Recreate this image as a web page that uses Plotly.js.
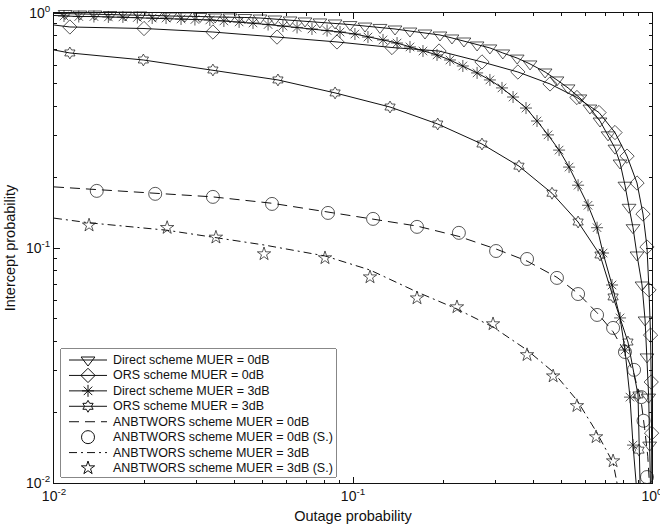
<!DOCTYPE html>
<html>
<head>
<meta charset="utf-8">
<script src="https://cdn.plot.ly/plotly-3.0.1.min.js"></script>
<style>
html, body { margin: 0; padding: 0; background: #fff; }
#chart { width: 660px; height: 529px; }
</style>
</head>
<body>
<div id="chart"></div>
<script>
// ---------------- data ----------------
// Direct scheme MUER = 0dB (first/last entries are where the curve meets the axes)
const direct0X = [0.01, 0.0109, 0.0122, 0.0137, 0.0154, 0.0173, 0.0194, 0.0218, 0.0244, 0.0274, 0.0308, 0.0346, 0.0388, 0.0435, 0.0489, 0.0548, 0.0616, 0.0691, 0.0775, 0.0871, 0.0977, 0.1097, 0.1231, 0.1382, 0.1551, 0.1741, 0.1954, 0.2143, 0.235, 0.260, 0.287, 0.317, 0.354, 0.391, 0.439, 0.481, 0.524, 0.574, 0.620, 0.670, 0.713, 0.752, 0.782, 0.812, 0.838, 0.864, 0.891, 0.926, 0.948, 0.962, 0.975, 0.982, 0.988];
const direct0Y = [0.996, 0.995, 0.990, 0.990, 0.985, 0.981, 0.981, 0.976, 0.971, 0.971, 0.966, 0.962, 0.962, 0.957, 0.952, 0.943, 0.934, 0.925, 0.916, 0.907, 0.893, 0.880, 0.868, 0.855, 0.838, 0.822, 0.806, 0.783, 0.760, 0.731, 0.710, 0.676, 0.643, 0.607, 0.561, 0.519, 0.480, 0.435, 0.394, 0.347, 0.303, 0.266, 0.230, 0.185, 0.149, 0.122, 0.0934, 0.0696, 0.0494, 0.0344, 0.0232, 0.0145, 0.01];

// ORS scheme MUER = 0dB
const ors0X = [0.01, 0.0113, 0.0200, 0.0340, 0.0557, 0.0884, 0.135, 0.194, 0.270, 0.356, 0.456, 0.561, 0.665, 0.752, 0.825, 0.891, 0.933, 0.962, 0.977, 0.989, 0.994, 0.997, 0.999];
const ors0Y = [0.889, 0.872, 0.859, 0.830, 0.790, 0.753, 0.713, 0.689, 0.619, 0.561, 0.499, 0.437, 0.377, 0.310, 0.246, 0.189, 0.1395, 0.101, 0.0663, 0.0426, 0.0269, 0.0163, 0.01];

// Direct scheme MUER = 3dB
const direct3X = [0.01, 0.0108, 0.0121, 0.0136, 0.0152, 0.0170, 0.0190, 0.0213, 0.0237, 0.0266, 0.0296, 0.0332, 0.0370, 0.0416, 0.0463, 0.0520, 0.0583, 0.0650, 0.0729, 0.0819, 0.0905, 0.1015, 0.1122, 0.126, 0.1404, 0.1551, 0.1714, 0.191, 0.211, 0.233, 0.260, 0.287, 0.315, 0.343, 0.379, 0.4125, 0.449, 0.489, 0.528, 0.566, 0.611, 0.655, 0.686, 0.735, 0.782, 0.812, 0.844, 0.864, 0.885];
const direct3Y = [0.976, 0.971, 0.966, 0.966, 0.962, 0.962, 0.957, 0.952, 0.952, 0.943, 0.938, 0.934, 0.925, 0.916, 0.907, 0.893, 0.880, 0.868, 0.855, 0.842, 0.830, 0.814, 0.790, 0.768, 0.745, 0.717, 0.689, 0.663, 0.631, 0.595, 0.556, 0.519, 0.480, 0.439, 0.394, 0.347, 0.303, 0.261, 0.221, 0.185, 0.152, 0.122, 0.0952, 0.0696, 0.0504, 0.0368, 0.0232, 0.0145, 0.01];

// ORS scheme MUER = 3dB
const ors3X = [0.01, 0.0113, 0.0199, 0.0340, 0.0561, 0.0871, 0.133, 0.192, 0.270, 0.359, 0.463, 0.566, 0.670, 0.741, 0.831, 0.898, 0.905, 0.912];
const ors3Y = [0.696, 0.676, 0.631, 0.572, 0.519, 0.457, 0.398, 0.337, 0.277, 0.223, 0.171, 0.129, 0.0934, 0.0619, 0.0398, 0.0237, 0.0138, 0.01];

// ANBTWORS scheme MUER = 0dB (theory, dashed)
const anb0X = [0.01, 0.0139, 0.0218, 0.034, 0.0536, 0.0825, 0.1167, 0.1637, 0.226, 0.301, 0.382, 0.481, 0.566, 0.655, 0.741, 0.812, 0.871, 0.921, 0.945, 0.968, 0.98];
const anb0Y = [0.182, 0.177, 0.171, 0.165, 0.155, 0.142, 0.133, 0.124, 0.112, 0.099, 0.088, 0.075, 0.064, 0.053, 0.044, 0.036, 0.029, 0.022, 0.017, 0.013, 0.01];

// ANBTWORS scheme MUER = 0dB (S.) (simulation, circles)
const anb0SimX = [0.0139, 0.0218, 0.0340, 0.0536, 0.0825, 0.1167, 0.1637, 0.226, 0.301, 0.382, 0.481, 0.566, 0.655, 0.741, 0.812, 0.871, 0.921, 0.937, 0.962];
const anb0SimY = [0.175, 0.170, 0.165, 0.154, 0.141, 0.133, 0.123, 0.116, 0.0971, 0.0898, 0.0746, 0.0637, 0.0519, 0.0457, 0.0361, 0.0303, 0.0232, 0.0184, 0.0106];

// ANBTWORS scheme MUER = 3dB (theory, dash-dot)
const anb3X = [0.01, 0.0131, 0.0239, 0.0348, 0.0504, 0.0806, 0.114, 0.1637, 0.2227, 0.294, 0.382, 0.467, 0.561, 0.650, 0.741, 0.764];
const anb3Y = [0.134, 0.128, 0.119, 0.111, 0.103, 0.0925, 0.0806, 0.065, 0.055, 0.0461, 0.0368, 0.0297, 0.0225, 0.0166, 0.0122, 0.01];

// ANBTWORS scheme MUER = 3dB (S.) (simulation, stars)
const anb3SimX = [0.0131, 0.0239, 0.0348, 0.0504, 0.0806, 0.114, 0.1637, 0.2227, 0.294, 0.382, 0.467, 0.561, 0.650, 0.741];
const anb3SimY = [0.125, 0.122, 0.111, 0.0943, 0.0907, 0.0752, 0.0612, 0.0561, 0.0475, 0.0351, 0.0285, 0.0213, 0.0157, 0.0124];

const seriesNames = [
  'Direct scheme MUER = 0dB',
  'ORS scheme MUER = 0dB',
  'Direct scheme MUER = 3dB',
  'ORS scheme MUER = 3dB',
  'ANBTWORS scheme MUER = 0dB',
  'ANBTWORS scheme MUER = 0dB (S.)',
  'ANBTWORS scheme MUER = 3dB',
  'ANBTWORS scheme MUER = 3dB (S.)'
];

const majorTickVals = [0.01, 0.1, 1];
const majorTickText = ['10<sup>-2</sup>', '10<sup>-1</sup>', '10<sup>0</sup>'];
const minorTickVals = [0.02, 0.03, 0.04, 0.05, 0.06, 0.07, 0.08, 0.09, 0.2, 0.3, 0.4, 0.5, 0.6, 0.7, 0.8, 0.9];

// ---------------- styling ----------------
const INK = '#111';
const FONT = '"Liberation Sans", Arial, Helvetica, sans-serif';
const DASH = '10px,6px';
const DASHDOT = '8px,4px,2px,4px';

// style of each series: [mode, symbol, size, dash]
const styles = [
  ['lines+markers', 'triangle-down-open', 12, 'solid'],
  ['lines+markers', 'diamond-open', 11, 'solid'],
  ['lines+markers', 'asterisk-open', 10, 'solid'],
  ['lines+markers', 'hexagram-open', 9, 'solid'],
  ['lines', null, 0, DASH],
  ['markers', 'circle-open', 13, 'solid'],
  ['lines', null, 0, DASHDOT],
  ['markers', 'star-open', 10, 'solid']
];

const seriesData = [
  [direct0X, direct0Y, true],
  [ors0X, ors0Y, true],
  [direct3X, direct3Y, true],
  [ors3X, ors3Y, true],
  [anb0X, anb0Y, false],
  [anb0SimX, anb0SimY, false],
  [anb3X, anb3Y, false],
  [anb3SimX, anb3SimY, false]
];

const traces = [];
seriesData.forEach(function (d, k) {
  const st = styles[k];
  const xs = d[0], ys = d[1], hasEnds = d[2];
  const n = xs.length;
  const sizes = xs.map(function (_, i) { return (hasEnds && (i === 0 || i === n - 1)) ? 0 : st[2]; });
  const tr = {
    type: 'scatter', x: xs, y: ys, mode: st[0], name: seriesNames[k],
    showlegend: false, cliponaxis: false,
    line: { color: INK, width: 1, dash: st[3] },
    hoverinfo: 'skip'
  };
  if (st[1]) tr.marker = { symbol: st[1], size: sizes, color: INK, line: { width: 1, color: INK } };
  traces.push(tr);
});

// ---------------- hand-drawn legend (MATLAB-like compact rows) ----------------
// legend box, in pixels of the 660x529 figure
const plotL = 54, plotR = 652, plotT = 13, plotB = 483;
const boxL = 61, boxR = 336, boxT = 349, boxB = 477;
const pw = plotR - plotL, ph = plotB - plotT;
const legDomX = [(boxL - plotL) / pw, (boxR - plotL) / pw];
const legDomY = [(plotB - boxB) / ph, (plotB - boxT) / ph];
const legW = boxR - boxL, legH = boxB - boxT;
const rowTop = 11, rowGap = 15.43;
const lineX0 = 8, lineX1 = 46, markX = 27, textX = 50;

const annotations = [];
seriesNames.forEach(function (name, k) {
  const st = styles[k];
  const yy = legH - rowTop - k * rowGap;
  if (st[0].indexOf('lines') >= 0) {
    traces.push({
      type: 'scatter', xaxis: 'x2', yaxis: 'y2', x: [lineX0, lineX1], y: [yy, yy],
      mode: 'lines', showlegend: false, hoverinfo: 'skip',
      line: { color: INK, width: 1, dash: st[3] }
    });
  }
  if (st[1]) {
    traces.push({
      type: 'scatter', xaxis: 'x2', yaxis: 'y2', x: [markX], y: [yy],
      mode: 'markers', showlegend: false, hoverinfo: 'skip', cliponaxis: false,
      marker: { symbol: st[1], size: st[2], color: INK, line: { width: 1, color: INK } }
    });
  }
  annotations.push({
    xref: 'x2', yref: 'y2', x: textX, y: yy, text: name, showarrow: false,
    xanchor: 'left', yanchor: 'middle', font: { family: FONT, size: 12.5, color: INK }
  });
});

const axisCommon = {
  type: 'log', range: [-2, 0], showgrid: false, zeroline: false,
  showline: true, linecolor: INK, linewidth: 1, mirror: 'ticks',
  ticks: 'inside', ticklen: 6, tickwidth: 1, tickcolor: INK,
  tickmode: 'array', tickvals: majorTickVals, ticktext: majorTickText,
  ticklabeloverflow: 'allow',
  tickfont: { family: FONT, size: 14, color: INK },
  minor: { tickmode: 'array', tickvals: minorTickVals, ticks: 'inside', ticklen: 3, tickwidth: 1, tickcolor: INK, showgrid: false },
  fixedrange: true
};

const layout = {
  width: 660, height: 529,
  margin: { l: plotL, r: 660 - plotR, t: plotT, b: 529 - plotB, pad: 0 },
  paper_bgcolor: '#fff', plot_bgcolor: '#fff',
  font: { family: FONT, color: INK },
  showlegend: false,
  xaxis: Object.assign({}, axisCommon, {
    title: { text: 'Outage probability', font: { family: FONT, size: 14.5, color: INK }, standoff: 8 }
  }),
  yaxis: Object.assign({}, axisCommon, {
    title: { text: 'Intercept probability', font: { family: FONT, size: 14.5, color: INK }, standoff: 6 }
  }),
  xaxis2: { domain: legDomX, range: [0, legW], visible: false, fixedrange: true, anchor: 'y2' },
  yaxis2: { domain: legDomY, range: [0, legH], visible: false, fixedrange: true, anchor: 'x2' },
  shapes: [{
    type: 'rect', xref: 'paper', yref: 'paper',
    x0: legDomX[0], x1: legDomX[1], y0: legDomY[0], y1: legDomY[1],
    line: { color: INK, width: 1 }, fillcolor: '#fff', layer: 'below'
  }],
  annotations: annotations
};

Plotly.newPlot('chart', traces, layout, { displayModeBar: false, staticPlot: true });
</script>
</body>
</html>
